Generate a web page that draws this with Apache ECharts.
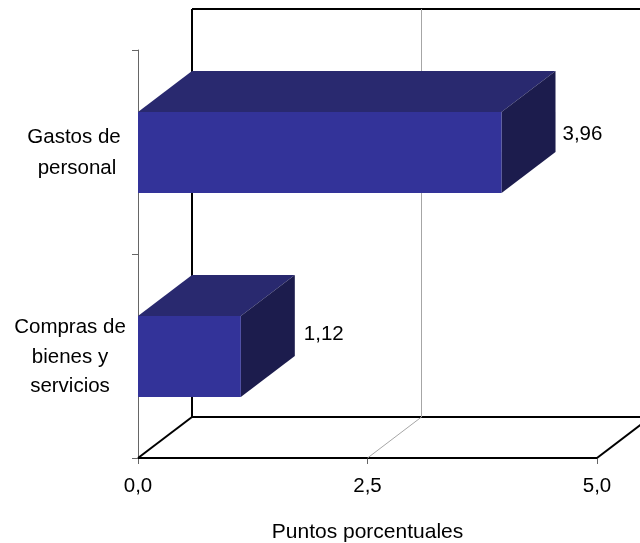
<!DOCTYPE html>
<html>
<head>
<meta charset="utf-8">
<style>html,body{margin:0;padding:0;background:#fff}#c{width:640px;height:543px}</style>
<script src="https://cdn.jsdelivr.net/npm/echarts@6/dist/echarts.min.js"></script>
</head>
<body>
<div id="c"></div>
<script>
var categories = ['Compras de\nbienes y\nservicios', 'Gastos de\npersonal'];
var values = [1.12, 3.96];
var xTicks = [0, 2.5, 5];
var axisTitle = 'Puntos porcentuales';

var FONT = '"Liberation Sans", Arial, sans-serif';
var DX = 54, DY = -41;
var LABEL_LIFT = [22, 18], LABEL_GAP = [9, 7];
var comma = function (v, d) { return v.toFixed(d).replace('.', ','); };

function renderWalls(params, api) {
  var v = api.value(0);
  var cs = params.coordSys;
  var x = api.coord([v, 0])[0];
  var top = cs.y, bot = cs.y + cs.height;
  var inner = v > 0 && v < 5;
  var style = { stroke: inner ? '#a6a6a6' : '#000', lineWidth: inner ? 1 : 2 };
  var kids = [
    { type: 'line', shape: { x1: x, y1: bot, x2: x + DX, y2: bot + DY }, style: style },
    { type: 'line', shape: { x1: x + DX, y1: bot + DY, x2: x + DX, y2: top + DY }, style: style }
  ];
  if (v === 0) {
    var s = { stroke: '#000', lineWidth: 2 };
    var r = cs.x + cs.width + DX;
    kids.push({ type: 'line', shape: { x1: x + DX, y1: top + DY, x2: r, y2: top + DY }, style: s });
    kids.push({ type: 'line', shape: { x1: x + DX, y1: bot + DY, x2: r, y2: bot + DY }, style: s });
    kids.push({ type: 'line', shape: { x1: cs.x, y1: bot, x2: cs.x + cs.width, y2: bot }, style: s });
  }
  return { type: 'group', children: kids };
}

function renderBar(params, api) {
  var val = api.value(0), cat = api.value(1);
  var base = api.coord([0, cat]);
  var end = api.coord([val, cat]);
  var h = api.size([0, 1])[1] * 0.397;
  var cy = end[1] + 0.5;
  var x0 = base[0], x1 = end[0], y0 = cy - h / 2, y1 = cy + h / 2;
  var i = params.dataIndex;
  return {
    type: 'group',
    children: [
      { type: 'polygon', shape: { points: [[x0, y0], [x1, y0], [x1 + DX, y0 + DY], [x0 + DX, y0 + DY]] }, style: { fill: '#29296f' } },
      { type: 'polygon', shape: { points: [[x1, y0], [x1 + DX, y0 + DY], [x1 + DX, y1 + DY], [x1, y1]] }, style: { fill: '#1c1c4d' } },
      { type: 'rect', shape: { x: x0, y: y0, width: x1 - x0, height: y1 - y0 }, style: { fill: '#333399' } },
      { type: 'text', x: x1 + DX + LABEL_GAP[i], y: end[1] - LABEL_LIFT[i], style: { text: comma(val, 2), fontSize: 20.5, fontFamily: FONT, fill: '#000', textAlign: 'left', textVerticalAlign: 'middle' } }
    ]
  };
}

function catStyle(lh, pad) {
  return { fontFamily: FONT, fontSize: 20.5, color: '#000', lineHeight: lh, padding: [0, 0, 0, pad] };
}

var chart = echarts.init(document.getElementById('c'), null, { renderer: 'canvas' });
chart.setOption({
  animation: false,
  grid: { left: 138, top: 50, width: 459, height: 408, containLabel: false, outerBoundsMode: 'none' },
  xAxis: {
    type: 'value', min: 0, max: 5, interval: 2.5,
    name: axisTitle, nameLocation: 'middle', nameGap: 64,
    nameTextStyle: { fontFamily: FONT, fontSize: 21, color: '#000' },
    axisLine: { show: false },
    axisTick: { show: true, length: 6, lineStyle: { color: '#666', width: 1 } },
    axisLabel: { margin: 18, fontFamily: FONT, fontSize: 20.5, color: '#000', formatter: function (v) { return comma(v, 1); } },
    splitLine: { show: false }
  },
  yAxis: {
    type: 'category', data: categories,
    axisLine: { show: true, lineStyle: { color: '#666', width: 1 } },
    axisTick: { show: true, length: 6, lineStyle: { color: '#666', width: 1 } },
    axisLabel: {
      align: 'center', margin: 68, interval: 0, padding: [2, 0, 0, 0],
      fontFamily: FONT, fontSize: 20.5, color: '#000',
      formatter: function (v) {
        var lines = v.split('\n');
        if (lines.length === 3) {
          return lines.map(function (l) { return '{c|' + l + '}'; }).join('\n');
        }
        return '{a|' + lines[0] + '}\n{b|' + lines[1] + '}';
      },
      rich: { a: catStyle(31, 8), b: catStyle(31, 14), c: catStyle(29.5, 0) }
    },
    splitLine: { show: false }
  },
  series: [
    { type: 'custom', renderItem: renderWalls, silent: true, clip: false, z: 1,
      encode: { x: 0, y: 1 }, data: xTicks.map(function (t) { return [t, 0]; }) },
    { type: 'custom', renderItem: renderBar, silent: true, clip: false, z: 3,
      encode: { x: 0, y: 1 }, data: values.map(function (v, i) { return [v, i]; }) }
  ]
});
</script>
</body>
</html>
